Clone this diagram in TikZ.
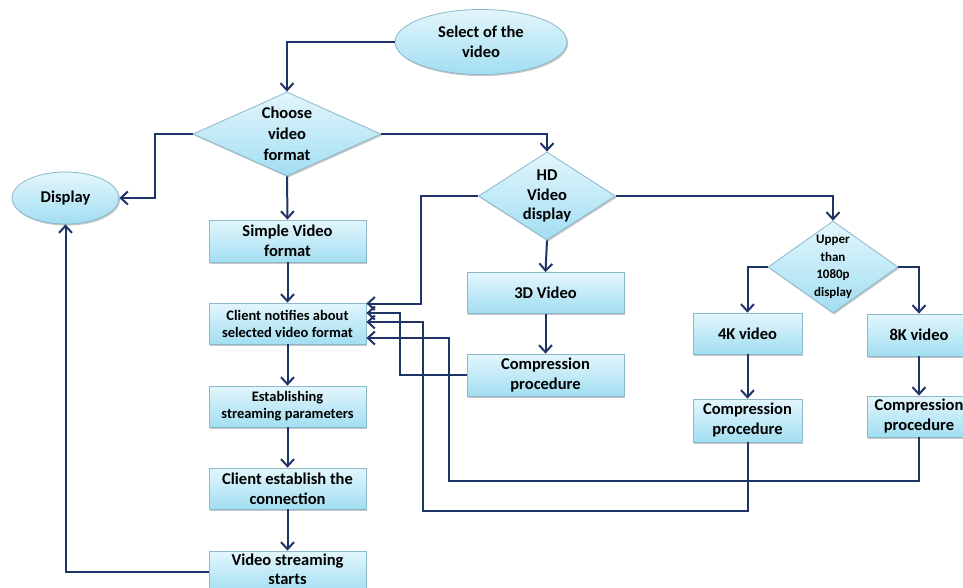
\documentclass[tikz,border=0pt]{standalone}
\usepackage{fontspec}
\setmainfont{Carlito}
\usetikzlibrary{arrows.meta,shapes.geometric,shadows}

\definecolor{navy}{HTML}{1E3366}
\definecolor{edgeblue}{HTML}{8BB8CB}
\definecolor{filltop}{HTML}{E3F6FC}
\definecolor{fillbot}{HTML}{A2DEF2}

\tikzset{
  bigtext/.style={font=\bfseries\fontsize{16.5}{20}\selectfont},
  smalltext/.style={font=\bfseries\fontsize{14.5}{17}\selectfont},
  tinytext/.style={font=\bfseries\fontsize{13}{17.5}\selectfont},
  base/.style={draw=edgeblue, line width=0.8pt, top color=filltop, bottom color=fillbot,
    align=center, inner sep=0pt, text=black,
    drop shadow={shadow xshift=1.2pt, shadow yshift=-1.6pt, opacity=0.22, fill=black}},
  procbox/.style={base, rectangle, bigtext},
  term/.style={base, ellipse, bigtext},
  choice/.style={base, diamond, aspect=2},
  choicetext/.style={align=center, text=black, inner sep=0pt},
  flow/.style={draw=navy, line width=2pt, -{Straight Barb[length=7pt, width=13pt, line width=2pt]}},
}

\begin{document}
\begin{tikzpicture}[x=1pt, y=-1pt]
  \useasboundingbox (0,0) rectangle (963,588);

  % terminals
  \node[term, minimum width=172pt, minimum height=65pt] (sel) at (481,42) {Select of the\\video};
  \node[term, minimum width=107pt, minimum height=52pt] (disp) at (65.5,198) {Display};

  % decisions
  \node[choice, minimum width=188pt, minimum height=84pt,
        label={[choicetext, font=\bfseries\fontsize{16.5}{21}\selectfont]center:Choose\\video\\format}] (choose) at (287,134) {};
  \node[choice, minimum width=137pt, minimum height=88pt,
        label={[choicetext, font=\bfseries\fontsize{16.5}{19.5}\selectfont]center:HD\\Video\\display}] (hd) at (547,196) {};
  \node[choice, minimum width=130pt, minimum height=92pt,
        label={[choicetext, tinytext]center:Upper\\than\\1080p\\display}] (upper) at (833,267) {};

  % main column
  \node[procbox, minimum width=157pt, minimum height=42pt] (simple) at (287.5,241) {Simple Video\\format};
  \node[procbox, smalltext, minimum width=157pt, minimum height=41pt] (notify) at (287.5,323.5) {Client notifies about\\selected video format};
  \node[procbox, smalltext, minimum width=157pt, minimum height=41pt] (estab) at (287.5,406.5) {Establishing\\streaming parameters};
  \node[procbox, minimum width=157pt, minimum height=41pt] (connect) at (287.5,488.5) {Client establish the\\connection};
  \node[procbox, minimum width=157pt, minimum height=42pt,
        label={[choicetext, font=\bfseries\fontsize{16.5}{19}\selectfont, yshift=2.5pt]center:Video streaming\\starts}] (stream) at (287.5,572) {};

  % HD branch
  \node[procbox, minimum width=157pt, minimum height=41pt] (v3d) at (545.5,293) {3D Video};
  \node[procbox, minimum width=157pt, minimum height=42pt] (c3d) at (545.5,375) {Compression\\procedure};

  % above 1080p branch
  \node[procbox, minimum width=109pt, minimum height=41pt] (k4) at (747.5,333.5) {4K video};
  \node[procbox, minimum width=109pt, minimum height=43pt] (c4k) at (747.5,420.5) {Compression\\procedure};
  \node[procbox, minimum width=104pt, minimum height=42pt] (k8) at (919,335) {8K video};
  \node[procbox, minimum width=104pt, minimum height=41pt] (c8k) at (919,416.5) {Compression\\procedure};

  % connectors
  \draw[flow] (sel.west) -| (choose.north);
  \draw[flow] (choose.west) -- ++(-38,0) |- (disp.east);
  \draw[flow] (choose.east) -| (hd.north);
  \draw[flow] (choose.south) -- (simple.north);
  \draw[flow] (hd.east) -| (upper.north);
  \draw[flow] (hd.south) -- (v3d.north);
  \draw[flow] (upper.west) -| (k4.north);
  \draw[flow] (upper.east) -| (k8.north);
  \draw[flow] (simple.south) -- (notify.north);
  \draw[flow] (notify.south) -- (estab.north);
  \draw[flow] (estab.south) -- (connect.north);
  \draw[flow] (connect.south) -- (stream.north);
  \draw[flow] (v3d.south) -- (c3d.north);
  \draw[flow] (k4.south) -- (c4k.north);
  \draw[flow] (k8.south) -- (c8k.north);
  \draw[flow] (stream.west) -| (disp.south);

  % feedback into the notification step
  \draw[flow] (hd.west) -| ([xshift=55pt, yshift=20pt]notify.east) -- ([yshift=20pt]notify.east);
  \draw[flow] (c3d.west) -| ([xshift=34pt, yshift=10.5pt]notify.east) -- ([yshift=10.5pt]notify.east);
  \draw[flow] (c4k.south) -- ++(0,69) -| ([xshift=57pt, yshift=1.5pt]notify.east) -- ([yshift=1.5pt]notify.east);
  \draw[flow] (c8k.south) -- ++(0,44) -| ([xshift=83pt, yshift=-14.5pt]notify.east) -- ([yshift=-14.5pt]notify.east);
\end{tikzpicture}
\end{document}
